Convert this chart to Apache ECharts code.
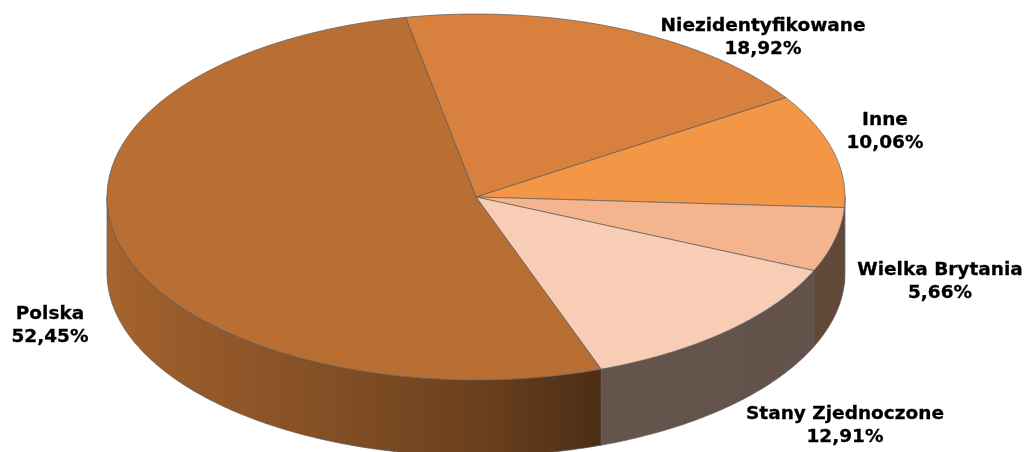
<!DOCTYPE html>
<html>
<head>
<meta charset="utf-8">
<script src="https://cdn.jsdelivr.net/npm/echarts@6/dist/echarts.min.js"></script>
<style>
html,body{margin:0;padding:0;background:#fff;}
#chart{width:1025px;height:452px;}
</style>
</head>
<body>
<div id="chart"></div>
<script>
// ---- data ----
const categories = ['Niezidentyfikowane', 'Inne', 'Wielka Brytania', 'Stany Zjednoczone', 'Polska'];
const shares = [18.92, 10.06, 5.66, 12.91, 52.45];
const topColors = ['#D8803D', '#F39646', '#F4B48E', '#F7CDB6', '#B96F33'];

// ---- layout (not data) ----
const geo = { cx: 476, cy: 197, rx: 369, ry: 183, depth: 76, startAngle: 101 };
const labelAnchors = [[763, 38], [885, 132], [940, 282], [845, 426], [50, 326]];
// side shading factor by x position
const shadeStops = [[107, 0.90], [180, 0.82], [330, 0.71], [480, 0.58], [600, 0.41], [845, 0.40]];

const total = shares.reduce((a, b) => a + b, 0);
const starts = [];
let acc = 0;
shares.forEach(v => { starts.push(acc); acc += v; });

function angleOf(cumValue) { return geo.startAngle - cumValue / total * 360; }
function pt(tDeg, dy) {
  const t = tDeg * Math.PI / 180;
  return [geo.cx + geo.rx * Math.cos(t), geo.cy - geo.ry * Math.sin(t) + (dy || 0)];
}
function arcPts(a0, a1, dy) {
  const pts = [];
  const n = Math.max(2, Math.ceil(Math.abs(a1 - a0) * 2));
  for (let i = 0; i <= n; i++) pts.push(pt(a0 + (a1 - a0) * i / n, dy));
  return pts;
}
function hexToRgb(h) { return [parseInt(h.slice(1, 3), 16), parseInt(h.slice(3, 5), 16), parseInt(h.slice(5, 7), 16)]; }
function shadeGradient(hex) {
  const c = hexToRgb(hex);
  const x0 = shadeStops[0][0], x1 = shadeStops[shadeStops.length - 1][0];
  return {
    type: 'linear', x: x0, y: 0, x2: x1, y2: 0, global: true,
    colorStops: shadeStops.map(s => ({
      offset: (s[0] - x0) / (x1 - x0),
      color: 'rgb(' + c.map(v => Math.round(v * s[1])).join(',') + ')'
    }))
  };
}
function fmt(v) { return v.toFixed(2).replace('.', ',') + '%'; }

const edge = '#5a5a5a';

function renderSide(params, api) {
  const i = params.dataIndex;
  const aStart = angleOf(starts[i]);
  const aEnd = angleOf(starts[i] + api.value(0));
  const children = [];
  [0, -360, 360].forEach(shift => {
    const lo = Math.max(aEnd, -180 + shift), hi = Math.min(aStart, 0 + shift);
    if (hi > lo) {
      const top = arcPts(hi, lo, 0);
      const bot = arcPts(lo, hi, geo.depth);
      children.push({
        type: 'polygon',
        shape: { points: top.concat(bot) },
        style: { fill: shadeGradient(topColors[i]), stroke: edge, lineWidth: 0.7 }
      });
    }
  });
  return { type: 'group', children: children };
}

function renderTop(params, api) {
  const i = params.dataIndex;
  const aStart = angleOf(starts[i]);
  const aEnd = angleOf(starts[i] + api.value(0));
  const pts = [[geo.cx, geo.cy]].concat(arcPts(aStart, aEnd, 0));
  return {
    type: 'group',
    children: [
      {
        type: 'polygon',
        shape: { points: pts },
        style: { fill: topColors[i], stroke: edge, lineWidth: 0.7 }
      },
      {
        type: 'text',
        style: {
          text: categories[i] + '\n' + fmt(api.value(0)),
          x: labelAnchors[i][0], y: labelAnchors[i][1],
          align: 'center', verticalAlign: 'middle',
          fontFamily: 'DejaVu Sans', fontWeight: 'bold', fontSize: 18.5,
          lineHeight: 23, fill: '#000', stroke: '#000', lineWidth: 0.3
        }
      }
    ]
  };
}

const chart = echarts.init(document.getElementById('chart'), null, { renderer: 'canvas' });
chart.setOption({
  animation: false,
  backgroundColor: '#ffffff',
  series: [
    { type: 'custom', coordinateSystem: 'none', z: 1, silent: true,
      data: shares.map((v, i) => ({ name: categories[i], value: [v] })), renderItem: renderSide },
    { type: 'custom', coordinateSystem: 'none', z: 2, silent: true,
      data: shares.map((v, i) => ({ name: categories[i], value: [v] })), renderItem: renderTop }
  ]
});
</script>
</body>
</html>
